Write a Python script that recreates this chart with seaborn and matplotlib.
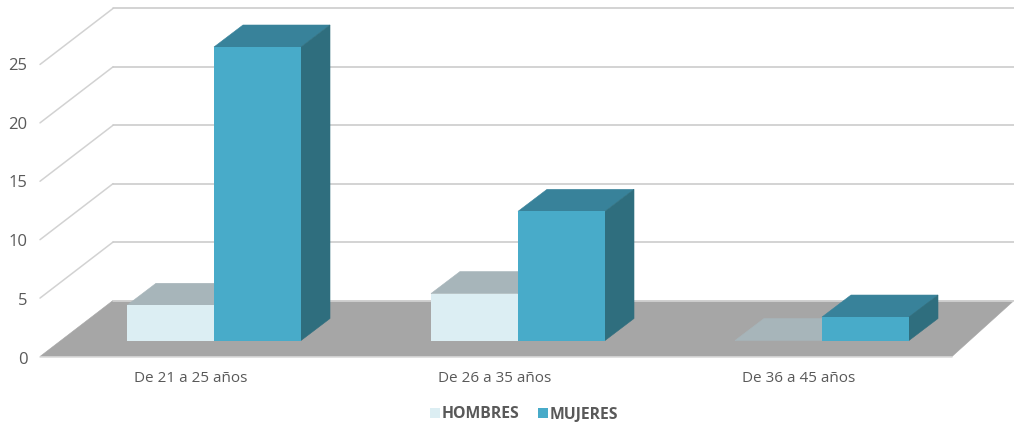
import matplotlib
matplotlib.use("Agg")
import matplotlib.pyplot as plt
from matplotlib.patches import Polygon
from matplotlib.lines import Line2D
from matplotlib.transforms import IdentityTransform, ScaledTranslation
import pandas as pd
import seaborn as sns

categories = ["De 21 a 25 años", "De 26 a 35 años", "De 36 a 45 años"]
hombres = [3, 4, 0]
mujeres = [25, 11, 2]
series_names = ["HOMBRES", "MUJERES"]
y_ticks = [0, 5, 10, 15, 20, 25]

W, H, DPI = 1014, 426, 100
FRONT = {"HOMBRES": "#DCEEF3", "MUJERES": "#48ABC9"}
TOP = {"HOMBRES": "#A7B5BA", "MUJERES": "#38829A"}
SIDE = {"HOMBRES": "#A7B5BA", "MUJERES": "#2F6E7E"}
TEXT = "#595959"

sns.set_theme(style="white")
plt.rcParams["font.family"] = ["Open Sans", "DejaVu Sans"]

df = pd.DataFrame({
    "cat": categories * 2,
    "serie": [series_names[0]] * 3 + [series_names[1]] * 3,
    "valor": hombres + mujeres,
})

fig = plt.figure(figsize=(W / DPI, H / DPI), dpi=DPI, facecolor="white")
ax = fig.add_axes([62 / W, (H - 340.5) / H, 912 / W, 293.5 / H])
ax.patch.set_alpha(0)
sns.barplot(data=df, x="cat", y="valor", hue="serie", order=categories,
            hue_order=series_names, palette=FRONT, width=0.5724, gap=0,
            saturation=1, linewidth=0, ax=ax)
ax.set_xlim(-0.5, 2.5)
ax.set_ylim(0, 25)
ax.set_xlabel("")
ax.set_ylabel("")
sns.despine(ax=ax, left=True, bottom=True)
fig.canvas.draw()


def disp(x, v, dx=0, dy=0):
    """Data position + a pixel offset (dy upward), in display coordinates."""
    px, py = ax.transData.transform((x, v))
    return (px + dx, py + dy)


def face(pts, color, z):
    ax.add_patch(Polygon(pts, closed=True, facecolor=color, edgecolor=color,
                         linewidth=0.4, transform=IdentityTransform(),
                         clip_on=False, zorder=z))


def seg(a, b, color, lw, z):
    ax.add_line(Line2D([a[0], b[0]], [a[1], b[1]], color=color, lw=lw,
                       transform=IdentityTransform(), clip_on=False, zorder=z))


# Box geometry, pixel offsets from the plane of the bars
XL = -0.5
XR = 2.5
WALL_FRONT = (-22, -16)
WALL_BACK = (51, 40)
FLOOR_RIGHT_FRONT = 952 - 974
FLOOR_RIGHT_BACK = 1014 - 974

face([disp(XL, 0, *WALL_BACK),
      disp(XR, 0, FLOOR_RIGHT_BACK, WALL_BACK[1]),
      disp(XR, 0, FLOOR_RIGHT_FRONT, WALL_FRONT[1]),
      disp(XL, 0, *WALL_FRONT)], "#A6A6A6", 1)
seg(disp(XL, 0, *WALL_FRONT), disp(XR, 0, FLOOR_RIGHT_FRONT, WALL_FRONT[1]),
    "#D8D8D8", 1.1, 1.5)

for v in y_ticks:
    if v:
        seg(disp(XL, v * 0.995, *WALL_FRONT), disp(XL, v * 0.995, *WALL_BACK), "#D2D2D2", 1.1, 2)
        seg(disp(XL, v * 0.995, *WALL_BACK), disp(XR, v * 0.995, FLOOR_RIGHT_BACK, WALL_BACK[1]),
            "#C8C8C8", 1.1, 2)
seg(disp(XL, 0, *WALL_BACK), disp(XR, 0, FLOOR_RIGHT_BACK, WALL_BACK[1]), "#D8D8D8", 1.1, 2)

# 3-D depth of each bar, derived from the bars seaborn drew
DX, DY = 29, 22
for i, (name, cont) in enumerate(zip(series_names, ax.containers)):
    for bar in cont:
        x0, x1 = bar.get_x(), bar.get_x() + bar.get_width()
        h = bar.get_height()
        bar.set_zorder(4 + 2 * i)
        face([disp(x0, h), disp(x1, h), disp(x1, h, DX, DY), disp(x0, h, DX, DY)],
             TOP[name], 3 + 2 * i)
        face([disp(x1, 0), disp(x1, h), disp(x1, h, DX, DY), disp(x1, 0, DX, DY)],
             SIDE[name], 3 + 2 * i)

# Ticks
ax.set_yticks(y_ticks)
ax.tick_params(axis="y", length=0, pad=25, labelsize=12, labelcolor=TEXT)
ax.tick_params(axis="x", length=0, pad=22, labelsize=11, labelcolor=TEXT)
for lab in ax.get_yticklabels():
    lab.set_transform(lab.get_transform() + ScaledTranslation(0, -17 / DPI, fig.dpi_scale_trans))
for lab in ax.get_xticklabels():
    lab.set_transform(lab.get_transform() + ScaledTranslation(-23 / DPI, 0, fig.dpi_scale_trans))

# Legend
handles, labels = ax.get_legend_handles_labels()
leg = ax.legend(handles, labels, loc="center", ncol=2, frameon=False,
                bbox_to_anchor=(524 / W, (H - 414.5) / H), bbox_transform=fig.transFigure,
                handlelength=0.64, handleheight=0.64, handletextpad=0.14, columnspacing=1.15,
                prop={"size": 11.3, "weight": "bold"}, labelcolor=TEXT)

fig.savefig("out.png", dpi=DPI, facecolor="white")
